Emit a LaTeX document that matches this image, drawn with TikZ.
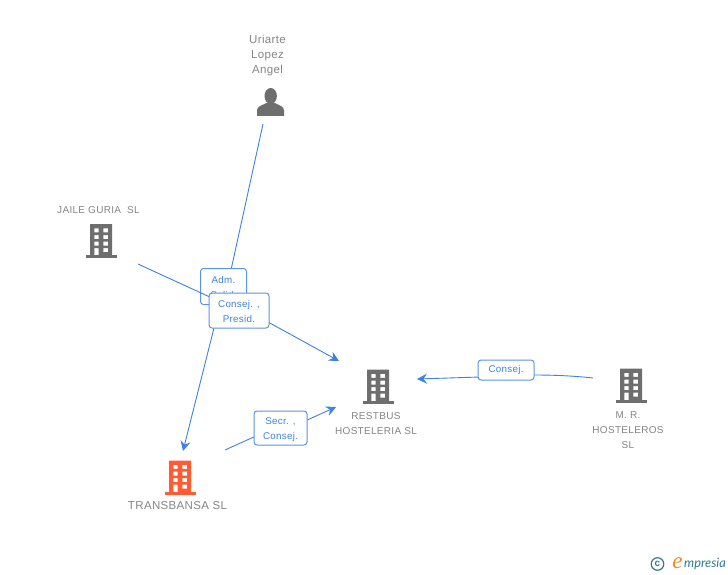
\documentclass[tikz,border=0pt]{standalone}
\usepackage{fontspec}
\setmainfont{Liberation Sans}
\newfontfamily\spaced[LetterSpace=3]{Liberation Sans}
\newfontfamily\logofont{Lato}
\newfontfamily\logoe{Liberation Serif}
\usetikzlibrary{arrows.meta}
\definecolor{txtgrey}{HTML}{858585}
\definecolor{icongrey}{HTML}{6E6E6E}
\definecolor{iconorange}{HTML}{FF5C33}
\definecolor{linkblue}{HTML}{3C82E0}
\definecolor{boxblue}{HTML}{5A94E4}
\definecolor{logoteal}{HTML}{2F7C92}
\definecolor{logoorange}{HTML}{F08A1D}
\pgfdeclarelayer{back}
\pgfdeclarelayer{front}
\pgfsetlayers{back,main,front}
\newcommand{\tagstrut}{\rule{0pt}{9.5pt}}
\tikzset{
  x=1pt,y=-1pt,
  link/.style={draw=linkblue,line width=0.9pt},
  linkarrow/.style={link,-{Stealth[length=10pt,width=10pt,inset=3.5pt]}},
  tag/.style={draw=boxblue,line width=1pt,fill=white,rounded corners=3pt,inner sep=0pt,
     text=linkblue,font=\spaced\fontsize{9.8}{15}\selectfont,align=center},
  caption/.style={text=txtgrey,align=center,inner sep=0pt},
  bigcap/.style={caption,font=\spaced\fontsize{11.5}{15.2}\selectfont},
  midcap/.style={caption,font=\spaced\fontsize{10}{15}\selectfont},
  pics/building/.style={code={
    \fill[#1,even odd rule]
      (-11,-16.5) rectangle (11,15)
      (-6.7,-12.2) rectangle (-2.3,-8.2) (2.3,-12.2) rectangle (7,-8.2)
      (-6.7,-5.5) rectangle (-2.3,-1.5) (2.3,-5.5) rectangle (7,-1.5)
      (-6.7,1.2) rectangle (-2.3,5.2) (2.3,1.2) rectangle (7,5.2)
      (-6.7,7.5) rectangle (-2.3,15) (2.3,7.5) rectangle (7,11.5);
    \fill[#1] (-15.5,14.5) rectangle (15.5,17.5);
  }}
}
\begin{document}
\begin{tikzpicture}
\useasboundingbox (0,0) rectangle (728,575);
% free ends of the connectors
\coordinate (uriStart) at (263,124);
\coordinate (uriIn) at (231,270);
\coordinate (transOut) at (214,328);
\coordinate (transEnd) at (183,451);
\coordinate (jaileStart) at (138,264);
\coordinate (jaileIn) at (212,298);
\coordinate (restOut) at (268,322);
\coordinate (restEnd) at (339,361);
\coordinate (secStart) at (225,450);
\coordinate (secIn) at (256,436);
\coordinate (secOut) at (305,421);
\coordinate (secEnd) at (336,407);
\coordinate (mrStart) at (593,378);
\coordinate (mrIn) at (533,375);
\coordinate (mrOut) at (480,377);
\coordinate (mrEnd) at (417,379);
% captions
\node[bigcap] (uriarte) at (267.5,55.5) {Uriarte\\Lopez\\Angel};
\node[midcap] (jaile) at (98.5,210.5) {JAILE GURIA\ \ SL};
\node[midcap] (restbus) at (376,423.5) {RESTBUS\\HOSTELERIA SL};
\node[midcap] (mr) at (628,430) {M. R.\\HOSTELEROS\\SL};
\node[bigcap] (transbansa) at (177.5,505.5) {TRANSBANSA SL};
% icons
\pic at (101,240.5) {building=icongrey};
\pic at (378,386) {building=icongrey};
\pic at (631,385) {building=icongrey};
\pic at (180,477) {building=iconorange};
\fill[icongrey] (270.7,96) ellipse (6.2 and 8);
\fill[icongrey] (257,116) -- (257,110.5) .. controls (257,106) and (262,105.5) .. (266.5,103)
  -- (275,103) .. controls (279,105.5) and (284,106) .. (284,110.5) -- (284,116) -- cycle;
% logo
\node[circle,draw=logoteal,line width=1.2pt,minimum size=12.5pt,inner sep=0pt,text=logoteal,font=\bfseries\fontsize{10}{10}\selectfont] (copy) at (657.5,564) {\raisebox{0.5pt}{c}};
\node[text=logoorange,inner sep=0pt,font=\logoe\itshape\fontsize{23}{23}\selectfont] (loge) at (677.5,563) {e};
\node[text=logoteal,inner sep=0pt,anchor=west,font=\logofont\itshape\fontsize{12.8}{12.8}\selectfont] (logt) at (684,564) {mpresia};
% tags and connectors
\node[tag,minimum width=46pt,minimum height=36pt,anchor=north west] (adm) at (200,268) {\tagstrut Adm.\\Solid.};
\begin{pgfonlayer}{front}
\node[tag,minimum width=60pt,minimum height=35pt] (cons) at (239,310.5) {\tagstrut Consej. ,\\Presid.};
\end{pgfonlayer}
\node[tag,minimum width=53pt,minimum height=34pt] (secr) at (280.5,428) {\tagstrut Secr. ,\\Consej.};
\node[tag,minimum width=56pt,minimum height=20pt] (consb) at (506,370) {\raisebox{-1pt}{Consej.}};
\begin{pgfonlayer}{back}
\draw[link] (uriStart) -- (uriIn);
\draw[linkarrow] (transOut) -- (transEnd);
\draw[link] (secStart) -- (secIn);
\draw[linkarrow] (secOut) -- (secEnd);
\draw[link] (mrStart) .. controls (570,375.5) and (550,375) .. (mrIn);
\draw[linkarrow] (mrOut) -- (mrEnd);
\draw[linkarrow] (restOut) -- (restEnd);
\end{pgfonlayer}
\draw[link] (jaileStart) -- (jaileIn);
\end{tikzpicture}
\end{document}
